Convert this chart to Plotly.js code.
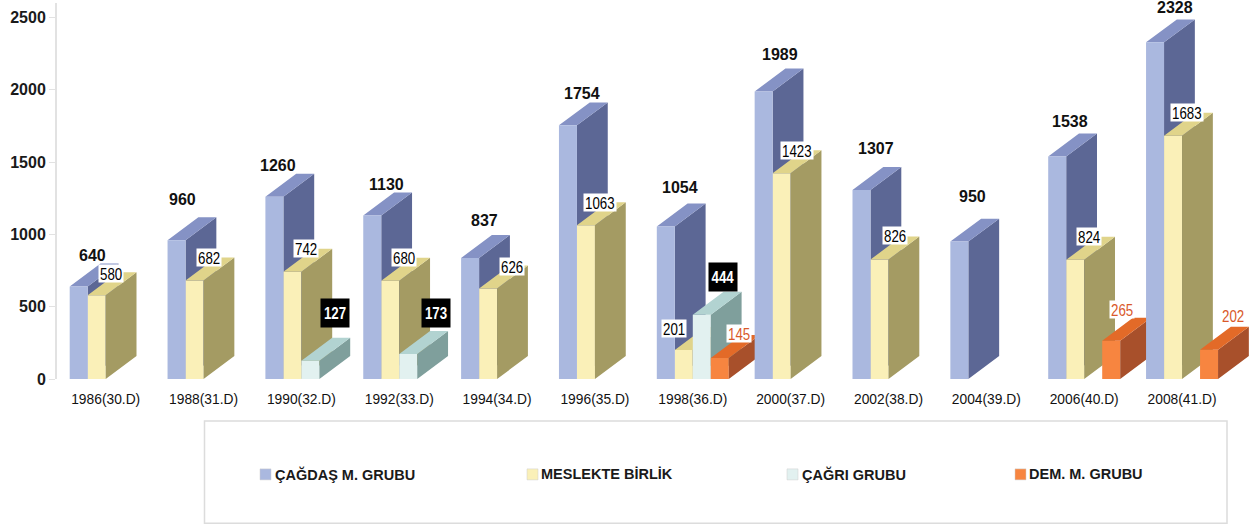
<!DOCTYPE html>
<html>
<head>
<meta charset="utf-8">
<script src="https://cdn.plot.ly/plotly-3.0.1.min.js"></script>
<style>html,body{margin:0;padding:0;background:#fff;overflow:hidden}#chart{width:1250px;height:525px}</style>
</head>
<body>
<div id="chart"></div>
<script>
// ---- data ----
const categories = ['1986(30.D)','1988(31.D)','1990(32.D)','1992(33.D)','1994(34.D)','1996(35.D)','1998(36.D)','2000(37.D)','2002(38.D)','2004(39.D)','2006(40.D)','2008(41.D)'];
const cagdas   = [640,960,1260,1130,837,1754,1054,1989,1307,950,1538,2328];
const meslekte = [580,682,742,680,626,1063,201,1423,826,null,824,1683];
const cagri    = [null,null,127,173,null,null,444,null,null,null,null,null];
const dem      = [null,null,null,null,null,null,145,null,null,null,265,202];
const seriesNames = ['ÇAĞDAŞ M. GRUBU','MESLEKTE BİRLİK','ÇAĞRI GRUBU','DEM. M. GRUBU'];

// ---- look ----
const faces = [
  {front:'#AAB8DF', top:'#8592C5', side:'#5C6795'},
  {front:'#FAF0B8', top:'#E0D48A', side:'#A49B63'},
  {front:'#E2F1F0', top:'#B2D3D1', side:'#7F9F9C'},
  {front:'#F78540', top:'#E36A28', side:'#A8502B'}
];
const W=1250,H=525,axisLeft=57,axisTop=3,axisBottom=379.5;
const pxPerCat=97.85, firstCentre=105.7, pxPerUnit=0.1448;
const barW=18/pxPerCat, depthX=30.8/pxPerCat, depthY=23/pxPerUnit;
const xRange=[(axisLeft-firstCentre)/pxPerCat,(W-firstCentre)/pxPerCat];
const yRange=[0,(axisBottom-axisTop)/pxPerUnit];
const idx=categories.map((_,i)=>i);
const all=[cagdas,meslekte,cagri,dem];

function barTrace(k,ax){
  return {type:'bar',name:seriesNames[k],x:idx,y:all[k],width:barW,offset:(k-2)*barW,
    marker:{color:faces[k].front,line:{width:0}},xaxis:ax[0],yaxis:ax[1],showlegend:false,hoverinfo:'y+name'};
}
function polyTrace(k,ax,kind){
  const xs=[],ys=[];
  all[k].forEach((v,i)=>{
    if(v===null)return;
    const l=i+(k-2)*barW,r=l+barW;
    const px=kind==='top'?[l,r,r+depthX,l+depthX,l]:[r,r+depthX,r+depthX,r,r];
    const py=kind==='top'?[v,v,v+depthY,v+depthY,v]:[v,v+depthY,depthY,0,v];
    xs.push(...px,null);ys.push(...py,null);
  });
  return {type:'scatter',mode:'none',x:xs,y:ys,fill:'toself',fillcolor:faces[k][kind],
    xaxis:ax[0],yaxis:ax[1],showlegend:false,hoverinfo:'skip'};
}
// painter's order: blue depth, yellow, teal, orange, then blue fronts over the neighbour's orange
const traces=[
  polyTrace(0,['x','y'],'side'),polyTrace(0,['x','y'],'top'),
  barTrace(1,['x2','y2']),polyTrace(1,['x2','y2'],'side'),polyTrace(1,['x2','y2'],'top'),
  barTrace(2,['x3','y3']),polyTrace(2,['x3','y3'],'side'),polyTrace(2,['x3','y3'],'top'),
  barTrace(3,['x4','y4']),polyTrace(3,['x4','y4'],'side'),polyTrace(3,['x4','y4'],'top'),
  barTrace(0,['x5','y5'])
];

// ---- value labels: pixel shifts from the bar's top centre ----
const shift1=[[14,-31],[6,-41],[4,-31],[14,-31],[14,-37],[14,-32],[14,-39],[16,-37],[14,-42],[13,-45],[13,-35],[20,-35]];
const shift2=[[14,-22],[14,-23],[14,-23],[14,-23],[24,-22],[14,-23],[-10,-21],[15,-23],[15,-24],null,[14,-23],[14,-23]];
const shift3={2:[25,-48],3:[28,-41],6:[21,-38]};
const shift4={6:[19,-25],10:[11,-31],11:[24,-34]};
const annotations=[];
const centre=(i,k)=>i+(k-2)*barW+barW/2;
const sans='"Liberation Sans",Arial,sans-serif';
const digitW=7.4;
const boxW=v=>String(v).length*digitW+2;
cagdas.forEach((v,i)=>annotations.push({x:centre(i,0),y:v,xref:'x',yref:'y',text:String(v),showarrow:false,
  xshift:shift1[i][0],yshift:-shift1[i][1],font:{family:sans,size:16,color:'#111',weight:700}}));
const squeezeFrom=annotations.length;
meslekte.forEach((v,i)=>{if(v===null)return;annotations.push({x:centre(i,1),y:v,xref:'x',yref:'y',text:String(v),showarrow:false,
  xshift:shift2[i][0],yshift:-shift2[i][1],bgcolor:'#fff',borderpad:0,width:boxW(v),height:17,font:{family:sans,size:16.5,color:'#000'}});});
cagri.forEach((v,i)=>{if(v===null)return;annotations.push({x:centre(i,2),y:v,xref:'x',yref:'y',text:String(v),showarrow:false,
  xshift:shift3[i][0],yshift:-shift3[i][1],bgcolor:'#000',width:26,height:26,borderpad:1,font:{family:sans,size:16.5,color:'#fff',weight:700}});});
dem.forEach((v,i)=>{if(v===null)return;annotations.push({x:centre(i,3),y:v,xref:'x',yref:'y',text:String(v),showarrow:false,
  xshift:shift4[i][0],yshift:-shift4[i][1],bgcolor:'#fff',borderpad:0,width:boxW(v),height:17,font:{family:sans,size:16.5,color:'#D9592A'}});});
const squeezeTo=annotations.length;

// ---- legend panel ----
const pX=p=>(p-axisLeft)/(W-axisLeft), pY=p=>(axisBottom-p)/(axisBottom-axisTop);
const shapes=[{type:'rect',xref:'paper',yref:'paper',x0:pX(204.5),x1:pX(1227),y0:pY(524),y1:pY(421.5),line:{color:'#DCDCDC',width:1.5},fillcolor:'rgba(0,0,0,0)'}];
const swatchLeft=[260,527,787,1015], textLeft=[274,540,801,1028];
seriesNames.forEach((n,k)=>{
  shapes.push({type:'rect',xref:'paper',yref:'paper',x0:pX(swatchLeft[k]),x1:pX(swatchLeft[k]+11),y0:pY(480.5),y1:pY(469.5),fillcolor:faces[k].front,line:{color:'#CFCFCF',width:0.5}});
  annotations.push({xref:'paper',yref:'paper',x:pX(textLeft[k]),y:pY(475),xanchor:'left',yanchor:'middle',text:n,showarrow:false,
    font:{family:sans,size:14.5,color:'#1a1a1a',weight:700},borderpad:0});
});

const hidden=(o)=>Object.assign({visible:false,fixedrange:true},o);
const layout={
  width:W,height:H,paper_bgcolor:'#fff',plot_bgcolor:'#fff',showlegend:false,
  margin:{l:axisLeft,r:0,t:axisTop,b:H-axisBottom,pad:0},
  xaxis:{range:xRange,tickmode:'array',tickvals:idx,ticktext:categories,showgrid:false,zeroline:false,showline:false,
    ticks:'outside',ticklen:6,tickcolor:'rgba(0,0,0,0)',tickfont:{family:sans,size:15,color:'#111'}},
  yaxis:{range:yRange,tickmode:'array',tickvals:[0,500,1000,1500,2000,2500],showgrid:false,zeroline:false,showline:true,linecolor:'#E2E2E2',linewidth:2,
    ticks:'outside',ticklen:6,tickcolor:'#E2E2E2',tickwidth:1,tickfont:{family:sans,size:16,color:'#1a1a1a',weight:700}},
  annotations,shapes,hovermode:'closest'
};
[2,3,4,5].forEach(n=>{
  layout['xaxis'+n]=hidden({overlaying:'x',range:xRange});
  layout['yaxis'+n]=hidden({overlaying:'y',range:yRange});
});
// the reference's lighter labels are horizontally condensed: squeeze the real text to the read widths
function squeeze(el,width){el.setAttribute('textLength',width);el.setAttribute('lengthAdjust','spacingAndGlyphs');}
Plotly.newPlot('chart',traces,layout,{displayModeBar:false,staticPlot:true}).then(gd=>{
  gd.querySelectorAll('.xtick text').forEach(t=>squeeze(t,69));
  gd.querySelectorAll('.annotation').forEach(a=>{
    const n=+a.getAttribute('data-index');
    if(n>=squeezeFrom&&n<squeezeTo){const t=a.querySelector('text');squeeze(t,t.textContent.length*digitW);}
  });
});
</script>
</body>
</html>
